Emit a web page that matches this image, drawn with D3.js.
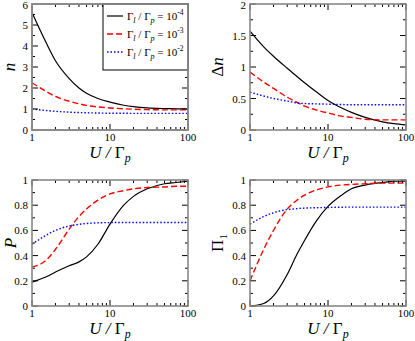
<!DOCTYPE html>
<html>
<head>
<meta charset="utf-8">
<style>
body { margin:0; background:#fff; }
text { font-family: "Liberation Serif", "Times New Roman", serif; font-weight: normal; }
.frame { fill:none; stroke:#888; stroke-width:1.6px; }
.tick { stroke:#000; stroke-width:1px; }
.ticklab { font-size:11px; fill:#000; }
.title { font-size:17px; font-style:italic; fill:#000; }
</style>
</head>
<body>
<svg width="415" height="341"></svg>
<script src="https://d3js.org/d3.v7.min.js"></script>
<script>

// values of U / Gamma_p where the curves are read
var u = [1, 1.5, 2, 3, 4, 5, 7, 10, 15, 20, 30, 50, 70, 100];

// n
var nA = [5.6, 4.2, 3.3, 2.45, 2.0, 1.75, 1.5, 1.33, 1.18, 1.11, 1.05, 1.02, 1.01, 1.0];
var nB = [2.25, 1.85, 1.6, 1.37, 1.25, 1.17, 1.1, 1.05, 1.01, 0.99, 0.97, 0.96, 0.96, 0.96];
var nC = [1.0, 0.93, 0.89, 0.85, 0.83, 0.82, 0.81, 0.8, 0.8, 0.79, 0.79, 0.79, 0.79, 0.79];

// delta n
var dA = [1.57, 1.32, 1.17, 0.98, 0.85, 0.75, 0.61, 0.47, 0.35, 0.28, 0.2, 0.13, 0.1, 0.08];
var dB = [0.92, 0.76, 0.66, 0.52, 0.44, 0.38, 0.32, 0.27, 0.22, 0.2, 0.17, 0.16, 0.16, 0.16];
var dC = [0.6, 0.54, 0.5, 0.46, 0.43, 0.42, 0.415, 0.41, 0.405, 0.4, 0.4, 0.4, 0.4, 0.4];

// P
var pA = [0.19, 0.23, 0.27, 0.32, 0.35, 0.39, 0.49, 0.65, 0.8, 0.87, 0.93, 0.97, 0.98, 0.99];
var pB = [0.31, 0.36, 0.45, 0.61, 0.71, 0.77, 0.84, 0.89, 0.915, 0.93, 0.94, 0.945, 0.95, 0.95];
var pC = [0.49, 0.56, 0.6, 0.635, 0.648, 0.655, 0.66, 0.662, 0.663, 0.663, 0.663, 0.663, 0.663, 0.663];

// Pi_1
var qA = [0.0, 0.02, 0.08, 0.25, 0.41, 0.52, 0.67, 0.79, 0.88, 0.93, 0.96, 0.98, 0.99, 0.99];
var qB = [0.2, 0.45, 0.6, 0.77, 0.84, 0.88, 0.92, 0.945, 0.96, 0.965, 0.97, 0.975, 0.975, 0.975];
var qC = [0.65, 0.71, 0.74, 0.765, 0.773, 0.777, 0.78, 0.782, 0.784, 0.785, 0.785, 0.785, 0.785, 0.785];

var legendExp = ["-4", "-3", "-2"];

var styles = [
  {color:"#000", dash:null, w:1.2},
  {color:"#f00", dash:"6,3", w:1.4},
  {color:"#00f", dash:"1.5,2", w:1.4}
];

var svg = d3.select("svg");

function panel(opt) {
  var x = d3.scaleLog().domain([1, 100]).range([opt.x0, opt.x1]);
  var y = d3.scaleLinear().domain([0, opt.ymax]).range([opt.y1, opt.y0]);
  var g = svg.append("g");

  var line = d3.line()
      .x(function(d, i) { return x(u[i]); })
      .y(function(d) { return y(d); })
      .curve(d3.curveMonotoneX);

  opt.series.forEach(function(s, i) {
    g.append("path")
      .attr("d", line(s))
      .attr("fill", "none")
      .attr("stroke", styles[i].color)
      .attr("stroke-width", styles[i].w)
      .attr("stroke-dasharray", styles[i].dash);
  });

  // x ticks (log), inward on bottom and top
  var xt = [];
  [1, 10].forEach(function(dec) {
    for (var k = 1; k < 10; k++) xt.push(dec * k);
  });
  xt.push(100);
  xt.forEach(function(v) {
    var major = (v === 1 || v === 10 || v === 100);
    var len = major ? 6 : 3;
    g.append("line").attr("class", "tick")
      .attr("x1", x(v)).attr("x2", x(v))
      .attr("y1", opt.y1).attr("y2", opt.y1 - len);
    g.append("line").attr("class", "tick")
      .attr("x1", x(v)).attr("x2", x(v))
      .attr("y1", opt.y0).attr("y2", opt.y0 + len);
    if (major) {
      g.append("text").attr("class", "ticklab")
        .attr("x", x(v)).attr("y", opt.y1 + 11)
        .attr("text-anchor", "middle").text(v);
    }
  });

  // y ticks
  var n = Math.round(opt.ymax / opt.minor);
  for (var k = 0; k <= n; k++) {
    var v = k * opt.minor;
    var major = (k % 2 === 0);
    var len = major ? 6 : 3;
    g.append("line").attr("class", "tick")
      .attr("x1", opt.x0).attr("x2", opt.x0 + len)
      .attr("y1", y(v)).attr("y2", y(v));
    g.append("line").attr("class", "tick")
      .attr("x1", opt.x1).attr("x2", opt.x1 - len)
      .attr("y1", y(v)).attr("y2", y(v));
    if (major) {
      g.append("text").attr("class", "ticklab")
        .attr("x", opt.x0 - 4).attr("y", Math.max(y(v) + 4, 9))
        .attr("text-anchor", "end").text(opt.fmt(v));
    }
  }

  g.append("rect").attr("class", "frame")
    .attr("x", opt.x0).attr("y", opt.y0)
    .attr("width", opt.x1 - opt.x0).attr("height", opt.y1 - opt.y0);

  // x title  U / Γp
  var xt2 = g.append("text").attr("class", "title")
    .attr("x", (opt.x0 + opt.x1) / 2).attr("y", opt.y1 + 28)
    .attr("text-anchor", "middle");
  xt2.append("tspan").text("U / ");
  xt2.append("tspan").attr("font-style", "normal").text("Γ");
  xt2.append("tspan").attr("font-size", "12px").attr("dy", 4).text("p");

  // y title
  var yt = g.append("text").attr("class", "title")
    .attr("transform", "translate(" + (opt.x0 - opt.ylabOff) + "," + ((opt.y0 + opt.y1) / 2) + ") rotate(-90)")
    .attr("text-anchor", "middle");
  opt.ylab(yt);
  return {x: x, y: y, g: g};
}

var fmtInt = function(v) { return d3.format("d")(v); };
var fmtDec = function(v) { return v === 0 ? "0" : (v === 1 ? "1" : d3.format(".1f")(v)); };
var fmtHalf = function(v) { return (v % 1 === 0) ? d3.format("d")(v) : d3.format(".1f")(v); };

var p1 = panel({x0:32, x1:188, y0:4, y1:130, ymax:6, minor:0.5, fmt:fmtInt,
  series:[nA, nB, nC], ylabOff:17,
  ylab:function(t) { t.text("n"); }});

panel({x0:250, x1:406, y0:4, y1:130, ymax:2, minor:0.25, fmt:fmtHalf,
  series:[dA, dB, dC], ylabOff:27,
  ylab:function(t) {
    t.append("tspan").attr("font-style", "normal").text("Δ");
    t.append("tspan").text("n");
  }});

panel({x0:32, x1:188, y0:180, y1:306, ymax:1, minor:0.1, fmt:fmtDec,
  series:[pA, pB, pC], ylabOff:16,
  ylab:function(t) { t.text("P"); }});

panel({x0:250, x1:406, y0:180, y1:306, ymax:1, minor:0.1, fmt:fmtDec,
  series:[qA, qB, qC], ylabOff:27,
  ylab:function(t) {
    t.append("tspan").attr("font-style", "normal").text("Π");
    t.append("tspan").attr("font-style", "normal").attr("font-size", "11px").attr("dy", 4).text("1");
  }});

// legend in first panel
var lg = p1.g.append("g");
lg.append("rect").attr("x", 103).attr("y", 4).attr("width", 85).attr("height", 66)
  .attr("fill", "#fff").attr("stroke", "#000").attr("stroke-width", 1);
legendExp.forEach(function(e, i) {
  var yy = 16 + i * 18;
  lg.append("line").attr("x1", 107).attr("x2", 123).attr("y1", yy).attr("y2", yy)
    .attr("stroke", styles[i].color).attr("stroke-width", styles[i].w)
    .attr("stroke-dasharray", styles[i].dash);
  var t = lg.append("text").attr("x", 127).attr("y", yy + 4).attr("font-size", "11px");
  t.append("tspan").text("Γ");
  t.append("tspan").attr("font-size", "8px").attr("font-style", "italic").attr("dy", 3).text("l");
  t.append("tspan").attr("dy", -3).text(" / Γ");
  t.append("tspan").attr("font-size", "8px").attr("font-style", "italic").attr("dy", 3).text("p");
  t.append("tspan").attr("dy", -3).text(" = 10");
  t.append("tspan").attr("font-size", "7.5px").attr("dy", -5).text(e);
});

// redraw top frame edge over legend
p1.g.append("rect").attr("class", "frame")
  .attr("x", 32).attr("y", 4).attr("width", 156).attr("height", 126);

</script>
</body>
</html>
